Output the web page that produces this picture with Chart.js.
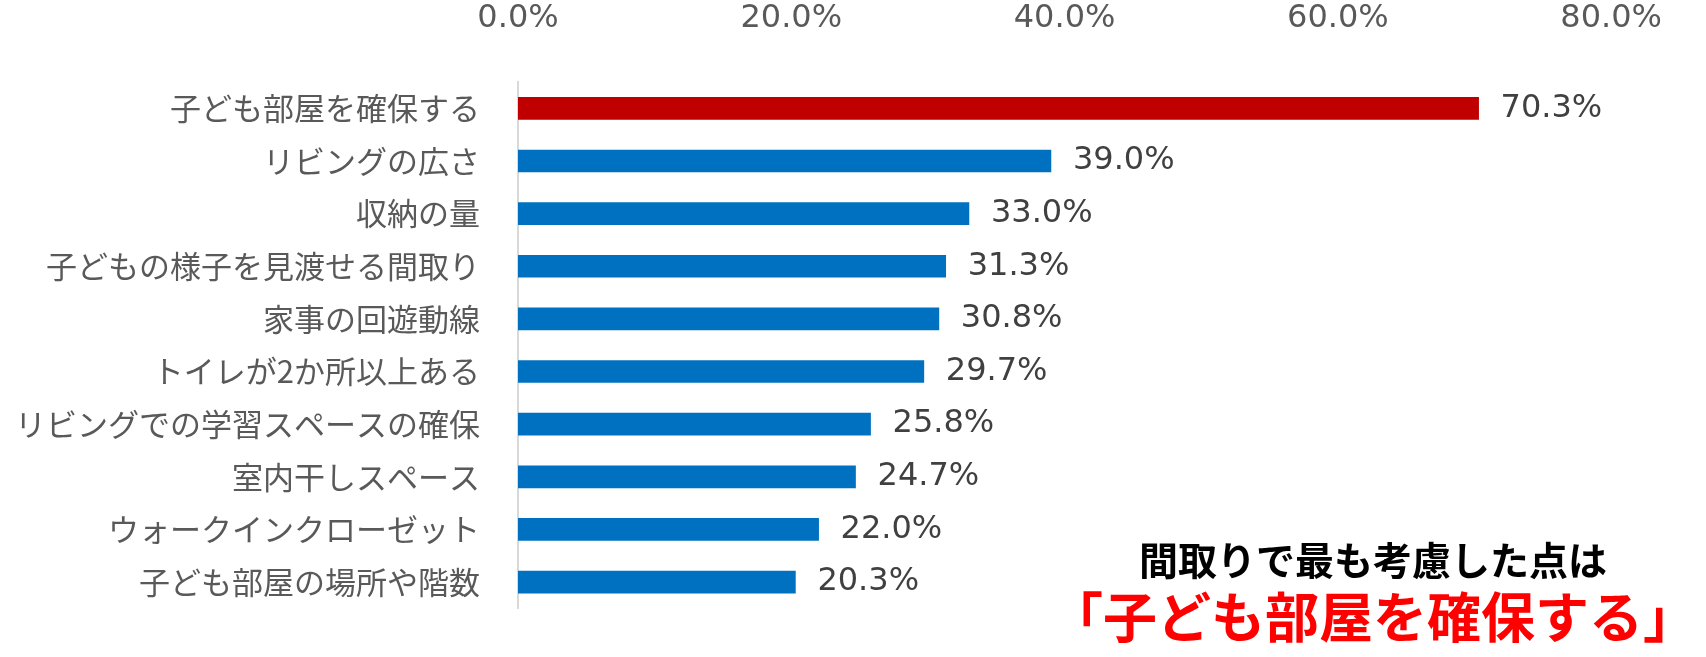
<!DOCTYPE html>
<html><head><meta charset="utf-8">
<script src="https://cdn.jsdelivr.net/npm/chart.js@4"></script>
<style>html,body{margin:0;background:#fff}#wrap{width:1706px;height:657px}</style>
</head><body><div id="wrap"><canvas id="c"></canvas></div>
<script>
const categories = ['子ども部屋を確保する','リビングの広さ','収納の量','子どもの様子を見渡せる間取り','家事の回遊動線','トイレが2か所以上ある','リビングでの学習スペースの確保','室内干しスペース','ウォークインクローゼット','子ども部屋の場所や階数'];
const values = [70.3, 39.0, 33.0, 31.3, 30.8, 29.7, 25.8, 24.7, 22.0, 20.3];
const barColors = values.map((v, i) => i === 0 ? '#c00000' : '#0070c0');
const FONT = '"Noto Sans CJK JP", "Noto Sans", sans-serif';
const NUMFONT = '"DejaVu Sans", sans-serif';

const labelPlugin = {
  id: 'labels',
  afterDatasetsDraw(chart) {
    const ctx = chart.ctx;
    const meta = chart.getDatasetMeta(0);
    ctx.save();
    ctx.fillStyle = '#404040';
    ctx.font = '32px ' + NUMFONT;
    ctx.textBaseline = 'middle';
    meta.data.forEach((bar, i) => {
      ctx.fillText(values[i].toFixed(1) + '%', bar.x + 22, bar.y);
    });
    ctx.textAlign = 'center';
    ctx.fillStyle = '#000';
    ctx.font = 'bold 39px ' + FONT;
    ctx.fillText('間取りで最も考慮した点は', 1373, 560);
    ctx.fillStyle = '#ff0000';
    ctx.font = 'bold 54px ' + FONT;
    ctx.fillText('「子ども部屋を確保する」', 1373, 617);
    ctx.restore();
  }
};

new Chart(document.getElementById('c'), {
  type: 'bar',
  data: {
    labels: categories,
    datasets: [{ data: values, backgroundColor: barColors, barThickness: 22 }]
  },
  options: {
    indexAxis: 'y',
    responsive: true,
    maintainAspectRatio: false,
    animation: false,
    layout: { padding: { left: 0, right: 60, top: 0, bottom: -22 } },
    plugins: { legend: { display: false }, tooltip: { enabled: false } },
    scales: {
      x: {
        position: 'top',
        min: 0, max: 80,
        ticks: { stepSize: 20, color: '#595959', font: { size: 32, family: NUMFONT }, padding: 44,
          callback: v => v.toFixed(1) + '%' },
        grid: { display: false, drawTicks: false },
        border: { display: false },
        afterFit: s => { s.height = 82; }
      },
      y: {
        ticks: { color: '#595959', font: { size: 31, family: FONT }, padding: 30 },
        grid: { display: false },
        border: { display: true, color: '#d9d9d9', width: 2 },
        afterFit: s => { s.width = 518; }
      }
    }
  },
  plugins: [labelPlugin]
});
</script></body></html>
